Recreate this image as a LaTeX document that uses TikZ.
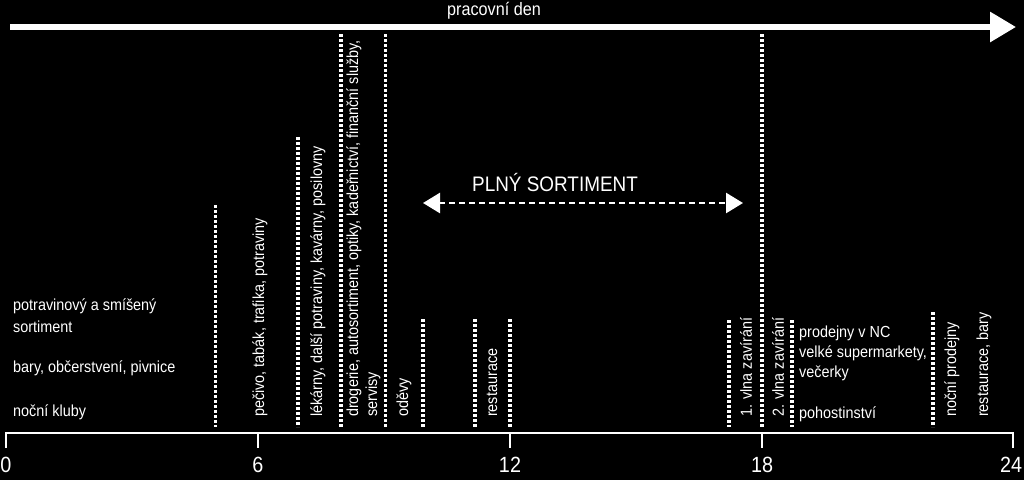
\documentclass[tikz,border=0pt]{standalone}
\usepackage{fontspec}
\setmainfont{Liberation Sans}[FakeStretch=0.9]
\usetikzlibrary{arrows.meta}

\begin{document}
\begin{tikzpicture}[x=1pt,y=-1pt,
    lbl/.style={text=white,inner sep=0pt,font=\fontsize{16}{20}\selectfont},
    vlbl/.style={lbl,rotate=90,anchor=west,align=left},
    hlbl/.style={lbl,anchor=west,align=left},
    hourlbl/.style={text=white,inner sep=0pt,font=\fontsize{22}{26}\selectfont},
    stopline/.style={white,line width=3.5pt,dash pattern=on 3pt off 2pt},
    tickline/.style={white,line width=2pt}]
            \fill[black] (0,0) rectangle (1024,480);
            \useasboundingbox (0,0) rectangle (1024,480);

            % pracovni den
            \coordinate (ds) at (10,27);
            \coordinate (de) at (1016,27);
            \draw[white,line width=6pt,-{Triangle[length=26pt,width=29pt]}] (ds) -- (de);
            \node (den) at (494,11) [lbl,font=\fontsize{18}{22}\selectfont] {pracovní den};

            % casova osa
            \coordinate (o0) at (5,433);
            \coordinate (o24) at (1014,433);
            \draw[tickline] (o0) -- (o24);
            \draw[tickline] (6,432) -- (6,448);
            \draw[tickline] (258,432) -- (258,448);
            \draw[tickline] (510,432) -- (510,448);
            \draw[tickline] (762,432) -- (762,448);
            \draw[tickline] (1013,432) -- (1013,448);
            \node (h0) at (6,465) [hourlbl] {0};
            \node (h6) at (258,465) [hourlbl] {6};
            \node (h12) at (510,465) [hourlbl] {12};
            \node (h18) at (762,465) [hourlbl] {18};
            \node (h24) at (1011,465) [hourlbl] {24};

            % oteviraci hodiny
            \draw[stopline] (215.5,205) -- (215.5,427);
            \draw[stopline] (298,137) -- (298,427);
            \draw[stopline] (341,34) -- (341,427);
            \draw[stopline] (385.5,34) -- (385.5,427);
            \draw[stopline] (423,319) -- (423,427);
            \draw[stopline] (475,319) -- (475,427);
            \draw[stopline] (510,319) -- (510,427);
            \draw[stopline] (729,320) -- (729,427);
            \draw[stopline] (762,34) -- (762,427);
            \draw[stopline] (792,320) -- (792,427);
            \draw[stopline] (933,312) -- (933,427);

            \node (pecivo) at (260,417) [vlbl] {pečivo, tabák, trafika, potraviny};
            \node (lekarny) at (318,417) [vlbl] {lékárny, další potraviny, kavárny, posilovny};
            \node (drogerie) at (363.5,417) [vlbl] {drogerie, autosortiment, optiky, kadeřnictví, finanční služby,\\[-1pt]servisy};
            \node (odevy) at (404,417) [vlbl] {oděvy};
            \node (restaurace) at (492,417) [vlbl] {restaurace};
            \node (vlna1) at (746,417) [vlbl] {1. vlna zavírání};
            \node (vlna2) at (778,417) [vlbl] {2. vlna zavírání};
            \node (nocni) at (952,417) [vlbl] {noční prodejny};
            \node (bary) at (984,417) [vlbl] {restaurace, bary};

            \node (potraviny) at (13,316) [hlbl] {potravinový a smíšený\\[2pt]sortiment};
            \node (obcerstveni) at (13,368) [hlbl] {bary, občerstvení, pivnice};
            \node (kluby) at (13,412) [hlbl] {noční kluby};
            \node (nc) at (799,353) [hlbl] {prodejny v NC\\velké supermarkety,\\večerky};
            \node (pohostinstvi) at (799,414) [hlbl] {pohostinství};

            % plny sortiment
            \node (plny) at (555,182) [text=white,inner sep=0pt,font=\fontsize{21}{25}\selectfont] {PLNÝ SORTIMENT};
            \coordinate (pa) at (423,203);
            \coordinate (pb) at (743,203);
            \draw[white,line width=2.5pt,dash pattern=on 6pt off 4pt,
                {Triangle[length=17pt,width=20pt]}-{Triangle[length=17pt,width=20pt]}] (pa) -- (pb);
        \end{tikzpicture}
\end{document}
